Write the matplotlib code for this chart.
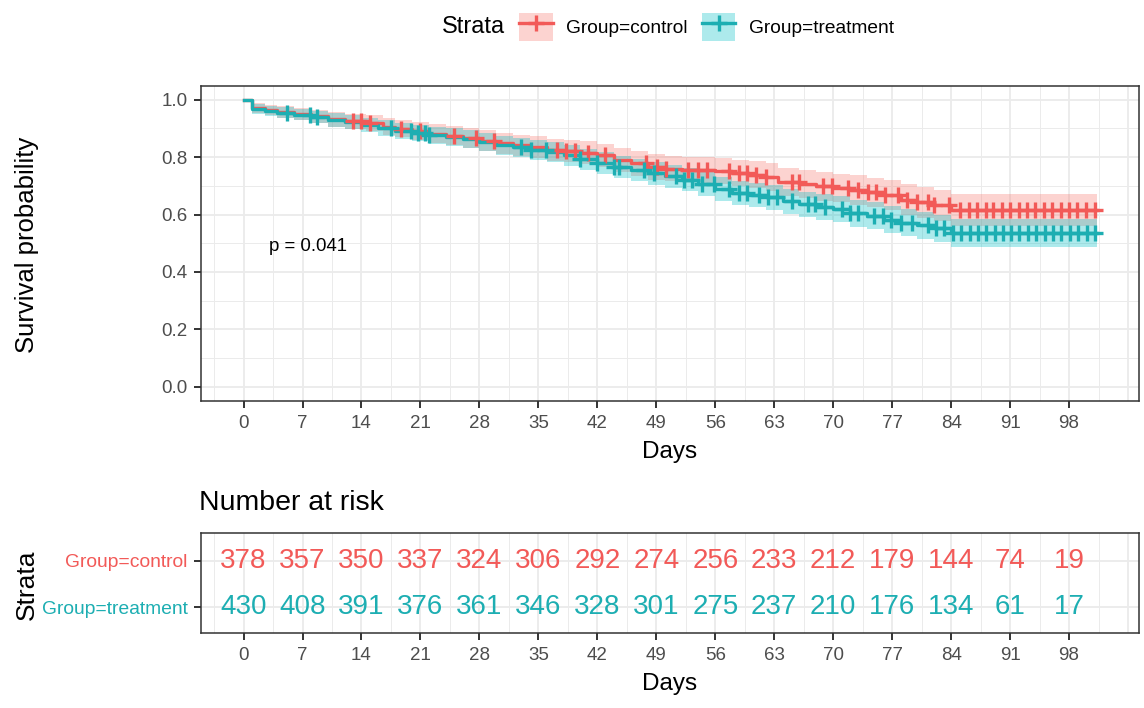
import numpy as np
import matplotlib.pyplot as plt
from matplotlib.patches import Patch
from matplotlib.lines import Line2D

plt.rcParams['font.family'] = ['Liberation Sans', 'DejaVu Sans']

# Kaplan-Meier estimates (step starts)
ctrl_time = [0, 1, 2.5, 4, 6, 8, 10, 12, 14.5, 16.5, 18, 20, 22, 24, 26, 28, 30, 32, 34, 36, 38, 40,
             42, 44, 46, 48, 50, 52, 54, 56, 58, 60, 62, 63.5, 66, 68, 70, 72, 74, 76, 78, 80, 82, 84]
ctrl_surv = [1.0, 0.972, 0.965, 0.957, 0.950, 0.942, 0.932, 0.925, 0.918, 0.906, 0.899, 0.892, 0.882,
             0.875, 0.866, 0.858, 0.848, 0.842, 0.835, 0.826, 0.822, 0.816, 0.806, 0.790, 0.778, 0.766,
             0.760, 0.757, 0.754, 0.751, 0.745, 0.738, 0.730, 0.712, 0.706, 0.698, 0.692, 0.686, 0.678,
             0.668, 0.652, 0.642, 0.632, 0.616]
ctrl_lo = [1.0, 0.955, 0.947, 0.937, 0.928, 0.918, 0.906, 0.898, 0.890, 0.877, 0.869, 0.861, 0.850,
           0.842, 0.832, 0.823, 0.812, 0.805, 0.797, 0.787, 0.783, 0.776, 0.765, 0.748, 0.735, 0.722,
           0.716, 0.712, 0.709, 0.705, 0.699, 0.691, 0.682, 0.663, 0.657, 0.648, 0.642, 0.635, 0.627,
           0.616, 0.599, 0.588, 0.577, 0.559]
ctrl_hi = [1.0, 0.989, 0.983, 0.977, 0.972, 0.966, 0.958, 0.952, 0.946, 0.935, 0.929, 0.923, 0.914,
           0.908, 0.900, 0.893, 0.884, 0.879, 0.873, 0.865, 0.861, 0.856, 0.847, 0.832, 0.821, 0.810,
           0.804, 0.802, 0.799, 0.797, 0.791, 0.785, 0.778, 0.761, 0.755, 0.748, 0.742, 0.737, 0.729,
           0.720, 0.705, 0.696, 0.687, 0.673]
ctrl_cens = [13.0, 14.0, 15.0, 18.7, 20.9, 25.0, 27.6, 29.7, 37.2, 38.3, 39.4, 40.9, 42.9, 47.8, 49.1,
             50.1, 52.8, 54.0, 55.0, 57.6, 58.8, 59.8, 60.8, 62.0, 65.1, 65.9, 68.8, 69.8, 71.7, 72.9,
             74.1, 75.1, 76.1, 77.7, 78.8, 80.0, 81.2, 82.0, 83.8, 85.1, 86.1, 87.1, 88.1, 89.0, 90.0,
             91.0, 92.0, 93.0, 94.0, 95.0, 96.0, 97.0, 98.0, 99.0, 100.0, 101.1]

trt_time = [0, 1, 2.5, 4, 6, 8, 10, 12, 14, 16, 18, 20, 22, 24, 26, 28, 30, 32, 34, 36, 38, 40,
            42, 44, 46, 48, 50, 52, 54, 56, 58, 60, 62, 64, 66, 68, 70, 72, 74, 76, 78, 80, 82, 84]
trt_surv = [1.0, 0.968, 0.962, 0.955, 0.948, 0.940, 0.930, 0.922, 0.912, 0.902, 0.892, 0.884, 0.876,
            0.870, 0.862, 0.852, 0.842, 0.834, 0.826, 0.818, 0.806, 0.792, 0.780, 0.766, 0.756, 0.744,
            0.734, 0.722, 0.706, 0.690, 0.676, 0.668, 0.660, 0.646, 0.636, 0.627, 0.618, 0.604, 0.596,
            0.582, 0.572, 0.562, 0.552, 0.536]
trt_lo = [1.0, 0.952, 0.945, 0.936, 0.928, 0.918, 0.906, 0.897, 0.886, 0.875, 0.864, 0.855, 0.846,
          0.840, 0.831, 0.820, 0.809, 0.800, 0.791, 0.783, 0.770, 0.755, 0.742, 0.728, 0.717, 0.704,
          0.694, 0.681, 0.665, 0.648, 0.634, 0.625, 0.617, 0.602, 0.592, 0.582, 0.573, 0.558, 0.550,
          0.535, 0.525, 0.514, 0.504, 0.488]
trt_hi = [1.0, 0.984, 0.979, 0.974, 0.968, 0.962, 0.954, 0.947, 0.938, 0.929, 0.920, 0.913, 0.906,
          0.900, 0.893, 0.884, 0.875, 0.868, 0.861, 0.853, 0.842, 0.829, 0.818, 0.804, 0.795, 0.784,
          0.774, 0.763, 0.747, 0.732, 0.718, 0.711, 0.703, 0.690, 0.680, 0.672, 0.663, 0.650, 0.642,
          0.629, 0.619, 0.610, 0.600, 0.584]
trt_cens = [5.1, 7.9, 8.7, 17.5, 19.9, 20.7, 21.5, 22.0, 32.9, 34.1, 35.9, 40.0, 42.0, 44.0, 44.6,
            47.5, 48.7, 51.3, 52.3, 53.2, 54.4, 55.8, 57.6, 58.8, 59.8, 61.2, 62.3, 63.3, 65.1, 67.0,
            67.8, 69.0, 71.0, 72.0, 72.9, 74.9, 75.9, 76.9, 78.1, 79.3, 81.2, 82.2, 83.2, 84.2, 85.2,
            86.2, 87.2, 88.2, 89.2, 90.1, 91.1, 92.1, 93.1, 94.1, 95.1, 96.1, 97.1, 98.1, 99.1, 100.1,
            101.1]
end_time = 101.3

risk_times = [0, 7, 14, 21, 28, 35, 42, 49, 56, 63, 70, 77, 84, 91, 98]
risk_ctrl = [378, 357, 350, 337, 324, 306, 292, 274, 256, 233, 212, 179, 144, 74, 19]
risk_trt = [430, 408, 391, 376, 361, 346, 328, 301, 275, 237, 210, 176, 134, 61, 17]

groups = ['Group=control', 'Group=treatment']
red = '#F25A58'
teal = '#1DAEB2'
band_red = '#F8766D'
band_teal = '#00BFC4'
pval = 'p = 0.041'

fig = plt.figure(figsize=(11.44, 7.08), dpi=100)
ax = fig.add_axes([0.1757, 0.4336, 0.8199, 0.4449])
ax2 = fig.add_axes([0.1757, 0.1059, 0.8199, 0.1413])

series = [
    (ctrl_time, ctrl_surv, ctrl_lo, ctrl_hi, ctrl_cens, red, band_red),
    (trt_time, trt_surv, trt_lo, trt_hi, trt_cens, teal, band_teal),
]

# ribbons first, then steps, then censor marks
for t, s, lo, hi, cens, col, bcol in series:
    tt = np.append(t, end_time)
    ax.fill_between(tt, np.append(lo, lo[-1]), np.append(hi, hi[-1]), step='post',
                    color=bcol, alpha=0.32, lw=0, zorder=2)
for t, s, lo, hi, cens, col, bcol in series:
    tt = np.append(t, end_time)
    ax.step(tt, np.append(s, s[-1]), where='post', color=col, lw=2.4, zorder=3)
for t, s, lo, hi, cens, col, bcol in series:
    idx = np.searchsorted(t, cens, side='right') - 1
    ax.plot(cens, np.array(s)[idx], ls='none', marker='+', ms=12, mew=2.4, color=col, zorder=4)

ax.text(3, 0.49, pval, fontsize=13.4, ha='left', va='center')

grid_col = '#EBEBEB'
xmin = np.arange(-3.5, 106, 7)
for a in (ax, ax2):
    a.set_xlim(-5.05, 106.3)
    a.set_xticks(risk_times)
    a.set_xticklabels([str(v) for v in risk_times])
    a.set_xticks(xmin, minor=True)
    a.grid(which='major', color=grid_col, lw=1.3, zorder=0)
    a.grid(which='minor', color=grid_col, lw=0.7, zorder=0)
    a.set_axisbelow(True)
    for sp in a.spines.values():
        sp.set_color('#333333')
        sp.set_linewidth(1.1)
    a.tick_params(which='major', length=4.8, width=1.4, color='#333333', labelsize=13.5,
                  labelcolor='#4D4D4D', pad=5)
    a.tick_params(which='minor', length=0)
    a.set_xlabel('Days', fontsize=17.5, labelpad=6.5)
    a.axvline(105, color=grid_col, lw=1.3, zorder=0)

ax.set_ylim(-0.05, 1.048)
ax.set_yticks([0, 0.2, 0.4, 0.6, 0.8, 1.0])
ax.set_yticklabels(['0.0', '0.2', '0.4', '0.6', '0.8', '1.0'])
ax.set_yticks([0.1, 0.3, 0.5, 0.7, 0.9], minor=True)
fig.text(27 / 1144, 1 - 245 / 708, 'Survival probability', rotation=90, fontsize=18.5,
         ha='center', va='center')

# risk table
ax2.set_ylim(0.45, 2.6)
ax2.set_yticks([1, 2])
ax2.set_yticklabels([groups[1], groups[0]], fontsize=13.9)
ax2.get_yticklabels()[0].set_color(teal)
ax2.get_yticklabels()[1].set_color(red)
for xv, n in zip(risk_times, risk_ctrl):
    ax2.text(xv, 2, str(n), color=red, fontsize=20, ha='center', va='center')
for xv, n in zip(risk_times, risk_trt):
    ax2.text(xv, 1, str(n), color=teal, fontsize=20, ha='center', va='center')
fig.text(27 / 1144, 1 - 585 / 708, 'Strata', rotation=90, fontsize=19, ha='center', va='center')
fig.text(199 / 1144, 1 - 503 / 708, 'Number at risk', fontsize=20.5, ha='left', va='center')

# legend
handles = []
for col, bcol in [(red, band_red), (teal, band_teal)]:
    handles.append((Patch(facecolor=bcol, alpha=0.32, edgecolor='none'),
                    Line2D([], [], color=col, lw=2.4, marker='+', ms=12, mew=2.4)))
fig.legend(handles, groups, ncol=2, loc='center left', bbox_to_anchor=(519 / 1144, 1 - 27 / 708),
           frameon=False, fontsize=13.8, handlelength=1.75, handleheight=1.85, handletextpad=0.7,
           columnspacing=0.75, borderpad=0, borderaxespad=0)
fig.text(505 / 1144, 1 - 27 / 708, 'Strata', fontsize=17, ha='right', va='center')

fig.savefig('out.png', dpi=100)
